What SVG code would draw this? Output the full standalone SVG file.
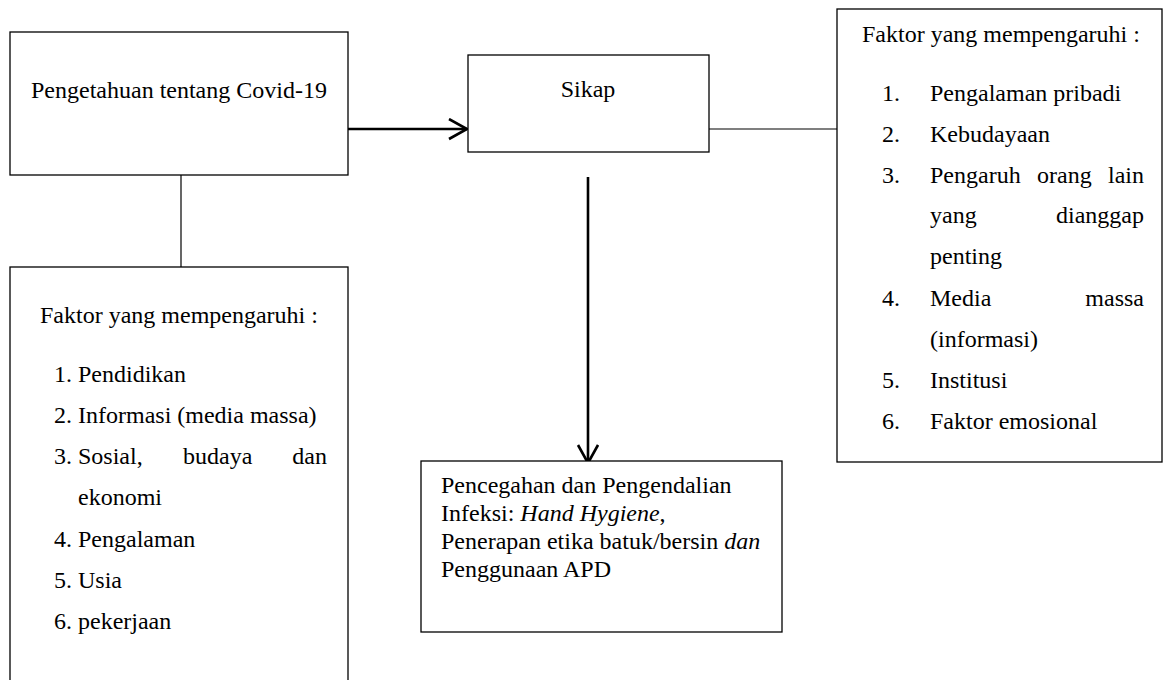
<svg xmlns="http://www.w3.org/2000/svg" width="1164" height="680" viewBox="0 0 1164 680">
<style>
.box{fill:#fff;stroke:#000;stroke-width:1.3}
.t{font-family:"Liberation Serif","Times New Roman",serif;font-size:24px;fill:#000}
.i{font-style:italic}
.thin{stroke:#000;stroke-width:1.2;fill:none}
.thick{stroke:#000;stroke-width:2.6;fill:none}
</style>
<defs>
<marker id="chev" markerUnits="userSpaceOnUse" markerWidth="24" markerHeight="26" refX="19" refY="11" orient="auto" viewBox="0 0 24 26">
<path d="M1,1 L19,11 L1,21" fill="none" stroke="#000" stroke-width="2.6"/>
</marker>
</defs>
<rect width="1164" height="680" fill="#fff"/>
<g id="connectors">
<line class="thick" x1="348" y1="129" x2="467" y2="129" marker-end="url(#chev)"/>
<line class="thick" x1="588" y1="177" x2="588" y2="463" marker-end="url(#chev)"/>
<line class="thin" x1="181" y1="175" x2="181" y2="267"/>
<line class="thin" x1="709" y1="129" x2="837" y2="129"/>
</g>
<g id="pengetahuan">
<rect class="box" x="10" y="32" width="338" height="143"/>
<text class="t" x="31" y="98">Pengetahuan tentang Covid-19</text>
</g>
<g id="sikap">
<rect class="box" x="468" y="55" width="241" height="97"/>
<text class="t" x="588" y="97" text-anchor="middle">Sikap</text>
</g>
<g id="faktor-pengetahuan">
<rect class="box" x="10" y="267" width="338" height="440"/>
<text class="t" x="40" y="323">Faktor yang mempengaruhi :</text>
<text class="t" x="54" y="382">1. Pendidikan</text>
<text class="t" x="54" y="423">2. Informasi (media massa)</text>
<text class="t" x="54" y="464">3. Sosial,</text>
<text class="t" x="183" y="464">budaya</text>
<text class="t" x="327" y="464" text-anchor="end">dan</text>
<text class="t" x="78" y="505">ekonomi</text>
<text class="t" x="54" y="546.5">4. Pengalaman</text>
<text class="t" x="54" y="588">5. Usia</text>
<text class="t" x="54" y="629">6. pekerjaan</text>
</g>
<g id="faktor-sikap">
<rect class="box" x="837" y="9" width="325" height="453"/>
<text class="t" x="862" y="42">Faktor yang mempengaruhi :</text>
<text class="t" x="882" y="101">1.</text><text class="t" x="930" y="101">Pengalaman pribadi</text>
<text class="t" x="882" y="142">2.</text><text class="t" x="930" y="142">Kebudayaan</text>
<text class="t" x="882" y="183">3.</text><text class="t" x="930" y="183">Pengaruh</text>
<text class="t" x="1037" y="183">orang</text>
<text class="t" x="1144" y="183" text-anchor="end">lain</text>
<text class="t" x="930" y="223">yang</text>
<text class="t" x="1144" y="223" text-anchor="end">dianggap</text>
<text class="t" x="930" y="264">penting</text>
<text class="t" x="882" y="305.5">4.</text><text class="t" x="930" y="305.5">Media</text>
<text class="t" x="1144" y="305.5" text-anchor="end">massa</text>
<text class="t" x="930" y="346.5">(informasi)</text>
<text class="t" x="882" y="388">5.</text><text class="t" x="930" y="388">Institusi</text>
<text class="t" x="882" y="428.5">6.</text><text class="t" x="930" y="428.5">Faktor emosional</text>
</g>
<g id="pencegahan">
<rect class="box" x="421" y="461" width="361" height="171"/>
<text class="t" x="441" y="493">Pencegahan dan Pengendalian</text>
<text class="t" x="441" y="521">Infeksi: <tspan class="i">Hand Hygiene</tspan>,</text>
<text class="t" x="441" y="549">Penerapan etika batuk/bersin <tspan class="i">dan</tspan></text>
<text class="t" x="441" y="577">Penggunaan APD</text>
</g>
</svg>
